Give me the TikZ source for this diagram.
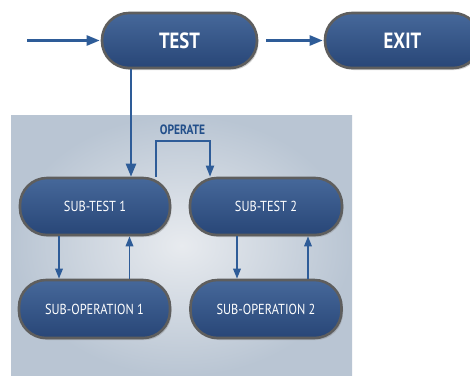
\documentclass[tikz,border=0pt]{standalone}
\usepackage{fontspec}
\newfontfamily\ptsans{PT Sans}
\usetikzlibrary{arrows.meta,shadows,calc}
\definecolor{pillA}{HTML}{46689A}
\definecolor{pillB}{HTML}{284677}
\definecolor{pillEdge}{HTML}{5E5E5E}
\definecolor{arrowblue}{HTML}{2E5C98}
\definecolor{panelIn}{HTML}{E8EBEF}
\definecolor{panelOut}{HTML}{B9C5D3}
\definecolor{opblue}{HTML}{224F8A}
\tikzset{
  pill/.style={rectangle, rounded corners=27pt, draw=pillEdge, line width=2.6pt,
    top color=pillA, bottom color=pillB, text=white,
    drop shadow={opacity=0.35, shadow xshift=1.5pt, shadow yshift=-2pt},
    inner sep=0pt, font=\ptsans},
  bigpill/.style={pill, minimum width=155pt, minimum height=55pt, font=\ptsans\bfseries\fontsize{22}{24}\selectfont},
  smallpill/.style={pill, minimum width=150pt, minimum height=57pt, font=\ptsans\fontsize{14.5}{16}\selectfont},
  bigarrow/.style={draw=arrowblue, line width=2.4pt, -{Triangle[length=13pt,width=10pt]}},
  smallarrow/.style={draw=arrowblue, line width=1.7pt, -{Triangle[length=10pt,width=7.5pt]}},
}
\begin{document}
\begin{tikzpicture}[x=1pt,y=-1pt]
\useasboundingbox (0,0) rectangle (470,375);
\fill[white] (0,0) rectangle (470,375);
% panel
\shade[inner color=panelIn, outer color=panelOut] (11,115) rectangle (352,376);
% nodes
\node[bigpill] (test) at (179.5,40.5) {\scalebox{0.85}[1]{TEST}};
\node[bigpill] (exit) at (402.5,40.5) {\scalebox{0.85}[1]{EXIT}};
\node[smallpill] (st1) at (95,206.5) {\scalebox{0.85}[1]{SUB-TEST 1}};
\node[smallpill, minimum width=152pt] (st2) at (266,206.5) {\scalebox{0.85}[1]{SUB-TEST 2}};
\node[smallpill, minimum width=151pt, minimum height=58pt] (so1) at (94.5,309) {\scalebox{0.85}[1]{SUB-OPERATION 1}};
\node[smallpill, minimum width=151pt, minimum height=58pt] (so2) at (266,309) {\scalebox{0.85}[1]{SUB-OPERATION 2}};
\node[text=opblue, font=\ptsans\bfseries\fontsize{13.5}{15}\selectfont] (op) at (182.5,130) {\scalebox{0.85}[1]{OPERATE}};
% connectors
\coordinate (start) at (27,40.5);
\draw[bigarrow] (start) -- ([xshift=-1pt]test.west);
\draw[bigarrow] ([xshift=8pt]test.east) -- ([xshift=-1pt]exit.west);
\draw[bigarrow] ([xshift=-48.5pt]test.south) -- ([xshift=-48.5pt]test.south |- st1.north);
\draw[draw=arrowblue, line width=1.8pt, -{Triangle[length=11pt,width=8pt]}]
  ([xshift=61pt]st1.north) -- ++(0,36pt) -| ([xshift=-56pt]st2.north);
\draw[smallarrow] ([xshift=-36pt]st1.south) -- ([xshift=-36pt]st1.south |- so1.north);
\draw[smallarrow] ([xshift=35pt]so1.north) -- ([xshift=35pt]so1.north |- st1.south);
\draw[smallarrow] ([xshift=-29pt]st2.south) -- ([xshift=-29pt]st2.south |- so2.north);
\draw[smallarrow] ([xshift=42pt]so2.north) -- ([xshift=42pt]so2.north |- st2.south);
\end{tikzpicture}
\end{document}
